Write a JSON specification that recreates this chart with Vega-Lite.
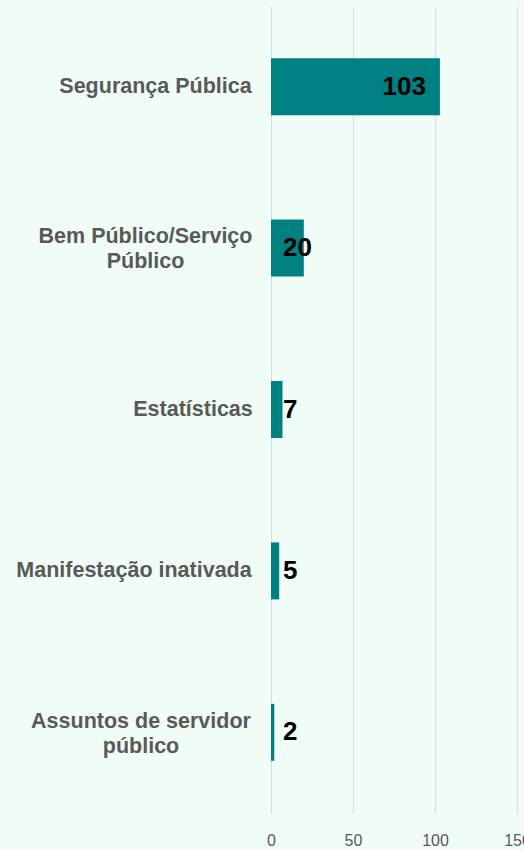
{
  "$schema": "https://vega.github.io/schema/vega-lite/v6.json",
  "width": 246,
  "height": 807,
  "autosize": {"type": "none"},
  "padding": {"left": 271, "top": 6, "right": 7, "bottom": 37},
  "background": "#f0fdf6",
  "config": {"view": {"stroke": null}, "font": "Liberation Sans"},
  "data": {
    "values": [
      {"categoria": "Segurança Pública", "total": 103},
      {"categoria": "Bem Público/Serviço Público", "total": 20},
      {"categoria": "Estatísticas", "total": 7},
      {"categoria": "Manifestação inativada", "total": 5},
      {"categoria": "Assuntos de servidor público", "total": 2}
    ]
  },
  "encoding": {
    "y": {
      "field": "categoria",
      "type": "nominal",
      "sort": null,
      "title": null,
      "scale": {"paddingInner": 0.647, "paddingOuter": 0.3235},
      "axis": {
        "domain": false,
        "ticks": false,
        "tickSize": 0,
        "grid": false,
        "labelAlign": "center",
        "labelBaseline": "middle",
        "labelPadding": {
          "condition": [
            {"test": "datum.value == 'Segurança Pública'", "value": 116},
            {"test": "datum.value == 'Bem Público/Serviço Público'", "value": 126},
            {"test": "datum.value == 'Estatísticas'", "value": 78.5},
            {"test": "datum.value == 'Manifestação inativada'", "value": 137.5}
          ],
          "value": 130.5
        },
        "labelOffset": {
          "condition": [
            {"test": "datum.value == 'Bem Público/Serviço Público'", "value": -11},
            {"test": "datum.value == 'Assuntos de servidor público'", "value": -10}
          ],
          "value": 0
        },
        "labelFont": "Liberation Sans",
        "labelFontSize": 21.5,
        "labelFontWeight": "bold",
        "labelColor": "#595959",
        "labelLineHeight": 25,
        "labelLimit": 400,
        "labelExpr": "datum.value == 'Bem Público/Serviço Público' ? ['Bem Público/Serviço', 'Público'] : datum.value == 'Assuntos de servidor público' ? ['Assuntos de servidor', 'público'] : datum.label"
      }
    }
  },
  "layer": [
    {
      "mark": {"type": "bar", "color": "#008080"},
      "encoding": {
        "x": {
          "field": "total",
          "type": "quantitative",
          "title": null,
          "scale": {"domain": [0, 150], "nice": false},
          "axis": {
            "values": [0, 50, 100, 150],
            "domain": false,
            "ticks": false,
            "tickSize": 0,
            "grid": true,
            "gridColor": "#d9d9d9",
            "gridWidth": 1,
            "labelFont": "Liberation Sans",
            "labelFontSize": 16,
            "labelColor": "#595959",
            "labelPadding": 19,
            "labelFlush": false,
            "labelOverlap": false
          }
        }
      }
    },
    {
      "transform": [{"filter": "datum.total >= 50"}],
      "mark": {"type": "text", "align": "right", "baseline": "middle", "dx": -14, "font": "Liberation Sans", "fontSize": 26, "fontWeight": "bold", "color": "#000000"},
      "encoding": {
        "x": {"field": "total", "type": "quantitative"},
        "text": {"field": "total", "type": "quantitative"}
      }
    },
    {
      "transform": [{"filter": "datum.total < 50"}],
      "mark": {"type": "text", "align": "left", "baseline": "middle", "dx": 12, "font": "Liberation Sans", "fontSize": 26, "fontWeight": "bold", "color": "#000000"},
      "encoding": {
        "x": {"datum": 0, "type": "quantitative"},
        "text": {"field": "total", "type": "quantitative"}
      }
    }
  ]
}
